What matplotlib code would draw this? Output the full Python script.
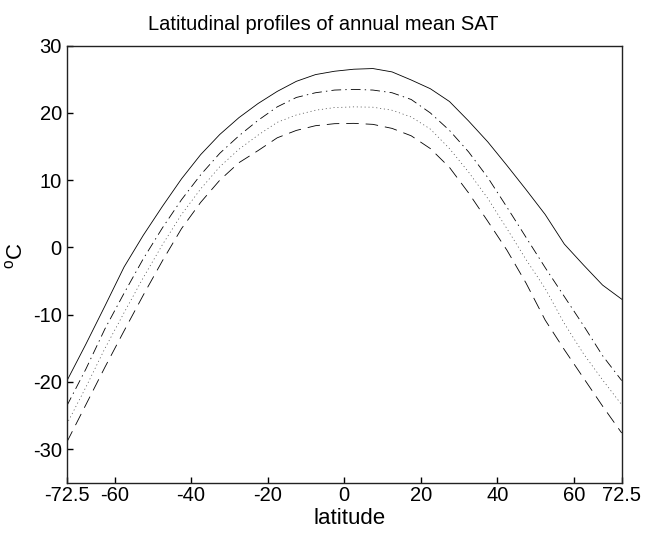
import matplotlib

matplotlib.use("Agg")
import matplotlib.pyplot as plt

plt.rcParams["font.family"] = ["Liberation Sans", "DejaVu Sans"]
plt.rcParams["mathtext.fontset"] = "custom"
plt.rcParams["mathtext.rm"] = "Liberation Sans"
plt.rcParams["axes.unicode_minus"] = False
plt.rcParams["lines.scale_dashes"] = False

# latitude grid (5-degree band centres)
lat = [-72.5, -67.5, -62.5, -57.5, -52.5, -47.5, -42.5, -37.5, -32.5, -27.5,
       -22.5, -17.5, -12.5, -7.5, -2.5, 2.5, 7.5, 12.5, 17.5, 22.5,
       27.5, 32.5, 37.5, 42.5, 47.5, 52.5, 57.5, 62.5, 67.5, 72.5]

# annual mean SAT profiles, deg C
sat_solid = [-19.9, -14.4, -8.7, -2.9, 1.8, 6.1, 10.2, 13.8, 16.8, 19.3,
             21.4, 23.2, 24.7, 25.7, 26.2, 26.5, 26.6, 26.1, 24.9, 23.6,
             21.7, 18.8, 15.7, 12.2, 8.6, 4.9, 0.5, -2.6, -5.6, -7.7]
sat_dashdot = [-23.6, -18.1, -12.1, -6.8, -1.7, 2.9, 7.1, 10.8, 14.0, 16.6,
               18.9, 20.9, 22.3, 23.0, 23.4, 23.5, 23.4, 23.0, 22.0, 20.0,
               17.4, 14.2, 10.4, 6.0, 1.5, -3.0, -7.3, -11.6, -16.1, -19.8]
sat_dotted = [-26.3, -20.8, -15.0, -9.7, -4.5, 0.4, 4.9, 8.7, 12.0, 14.6,
              16.7, 18.6, 19.7, 20.4, 20.8, 20.9, 20.85, 20.4, 19.4, 17.6,
              14.7, 11.2, 7.3, 2.8, -1.8, -6.1, -11.3, -15.8, -19.7, -23.4]
sat_dashed = [-29.0, -23.4, -17.8, -12.4, -7.1, -2.0, 2.8, 6.7, 10.0, 12.6,
              14.4, 16.3, 17.4, 18.1, 18.4, 18.45, 18.3, 17.7, 16.6, 14.7,
              11.9, 8.1, 3.9, -0.4, -5.3, -10.8, -15.2, -19.4, -23.6, -27.6]

xticks = [-72.5, -60, -40, -20, 0, 20, 40, 60, 72.5]
xticklabels = ["-72.5", "-60", "-40", "-20", "0", "20", "40", "60", "72.5"]
yticks = [-30, -20, -10, 0, 10, 20, 30]

fig = plt.figure(figsize=(6.45, 5.33), dpi=100)
ax = fig.add_axes([0.1034, 0.0942, 0.8605, 0.8201])

lw = 0.6
ax.plot(lat, sat_solid, color="k", linewidth=lw, linestyle="-")
ax.plot(lat, sat_dashdot, color="k", linewidth=lw, linestyle=(0, (7, 3, 1, 3)))
ax.plot(lat, sat_dotted, color="#444444", linewidth=0.5, linestyle=(0, (0.8, 2.0)))
ax.plot(lat, sat_dashed, color="k", linewidth=lw, linestyle=(0, (9, 5)))

ax.set_xlim(-72.5, 72.5)
ax.set_ylim(-35, 30)
ax.set_xticks(xticks)
ax.set_xticklabels(xticklabels)
ax.set_yticks(yticks)
ax.tick_params(direction="in", length=4.3, width=1.0, labelsize=14.5,
               top=False, right=False, colors="k")
ax.tick_params(axis="x", pad=2.5)
ax.tick_params(axis="y", pad=3.5)
for s in ax.spines.values():
    s.set_linewidth(1.0)
    s.set_color("#222222")

ax.set_title("Latitudinal profiles of annual mean SAT", fontsize=14.5, pad=11, x=0.462)
ax.set_xlabel("latitude", fontsize=16, labelpad=2, x=0.509)
ax.set_ylabel(r"$^{\rm o}$C", fontsize=16, labelpad=4, y=0.52)

fig.savefig("out.png", dpi=100)
